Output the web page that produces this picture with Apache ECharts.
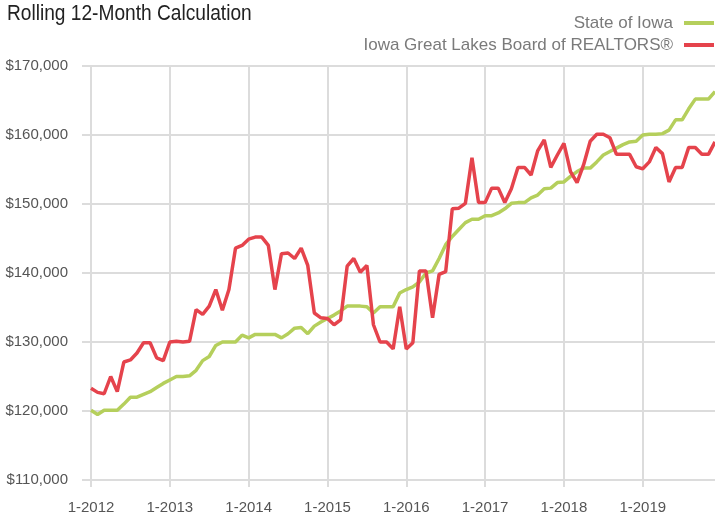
<!DOCTYPE html>
<html><head><meta charset="utf-8">
<script src="https://cdn.jsdelivr.net/npm/echarts@6/dist/echarts.min.js"></script>
<style>html,body{margin:0;padding:0;background:#fff}#c{width:715px;height:515px}</style>
</head><body><div id="c"></div>
<script>
const years = [2012,2013,2014,2015,2016,2017,2018,2019];
const seriesNames = ["State of Iowa", "Iowa Great Lakes Board of REALTORS®"];
const stateOfIowa = [
120100,119500,120100,120100,120100,121000,122000,122000,122400,122800,123400,124000,
124500,125000,125000,125100,125900,127300,127900,129500,130000,130000,130000,131000,
130600,131100,131100,131100,131100,130600,131200,132000,132100,131200,132300,132900,
133400,133900,134500,135200,135200,135200,135100,134200,135100,135100,135100,137100,
137600,138000,138700,140000,140300,142100,144100,145300,146300,147300,147800,147800,
148300,148300,148700,149300,150100,150200,150200,150900,151300,152200,152300,153100,
153200,154000,154700,155200,155200,156100,157100,157600,158100,158600,159000,159100,
160000,160100,160100,160200,160700,162200,162200,163800,165200,165200,165200,166300
];
const iowaGreatLakes = [
123300,122700,122500,125000,122800,127100,127400,128400,129900,129900,127700,127300,
130000,130100,130000,130100,134700,134000,135200,137600,134600,137600,143600,144000,
144900,145200,145200,144000,137600,142800,142900,142100,143600,141100,134200,133500,
133400,132500,133200,141000,142100,140100,141100,132500,130000,130000,129000,135100,
129000,129900,140300,140300,133500,139800,140200,149300,149400,150100,156700,150200,
150200,152300,152300,150200,152200,155300,155300,154200,157700,159300,155300,157100,
158800,154700,153100,155700,159100,160100,160100,159600,157200,157200,157200,155400,
155100,156100,158200,157300,153200,155300,155300,158200,158200,157200,157200,159000
];
const months = [];
years.forEach(y => { for (let m = 1; m <= 12; m++) months.push(m + '-' + y); });

const FONT = '"Liberation Sans Narrow", "Liberation Sans", Arial, sans-serif';
const GRID = '#dcdcdc';
const chart = echarts.init(document.getElementById('c'), null, {renderer: 'canvas'});
const every12 = (i) => i % 12 === 0;
chart.setOption({
  animation: false,
  graphic: [{
    type: 'text', x: 7, y: 3, scaleX: 0.87, scaleY: 1,
    style: {text: 'Rolling 12-Month Calculation', fontFamily: FONT, fontSize: 22, fill: '#222'}
  }],
  legend: {
    orient: 'vertical', right: -4, top: 9, align: 'right',
    itemWidth: 30, itemHeight: 4, itemGap: 4, icon: 'rect',
    textStyle: {fontFamily: FONT, fontSize: 17, color: '#7a7a7a', lineHeight: 18, padding: [0, 6, 0, 0]},
    data: seriesNames
  },
  grid: {left: 91, top: 66, bottom: 34, width: 625},
  xAxis: {
    type: 'category', data: months, boundaryGap: false,
    axisLine: {show: true, lineStyle: {color: GRID, width: 2}},
    axisTick: {show: true, length: 7, interval: every12, lineStyle: {color: GRID, width: 2}},
    splitLine: {show: true, interval: every12, lineStyle: {color: GRID, width: 2}},
    axisLabel: {interval: every12, margin: 20, fontFamily: FONT, fontSize: 15, color: '#555'}
  },
  yAxis: {
    type: 'value', min: 110000, max: 170000, interval: 10000,
    axisLine: {show: false},
    axisTick: {show: true, length: 9, lineStyle: {color: GRID, width: 2}},
    splitLine: {show: true, lineStyle: {color: GRID, width: 2}},
    axisLabel: {margin: 23, fontFamily: FONT, fontSize: 15, color: '#555',
      formatter: v => '$' + v.toLocaleString('en-US')}
  },
  series: [
    {name: seriesNames[0], type: 'line', data: stateOfIowa, showSymbol: false, symbol: 'none',
     lineStyle: {color: '#b5cf5c', width: 3.5}, itemStyle: {color: '#b5cf5c'}},
    {name: seriesNames[1], type: 'line', data: iowaGreatLakes, showSymbol: false, symbol: 'none',
     lineStyle: {color: '#e5434c', width: 3.5}, itemStyle: {color: '#e5434c'}}
  ]
});
</script></body></html>
